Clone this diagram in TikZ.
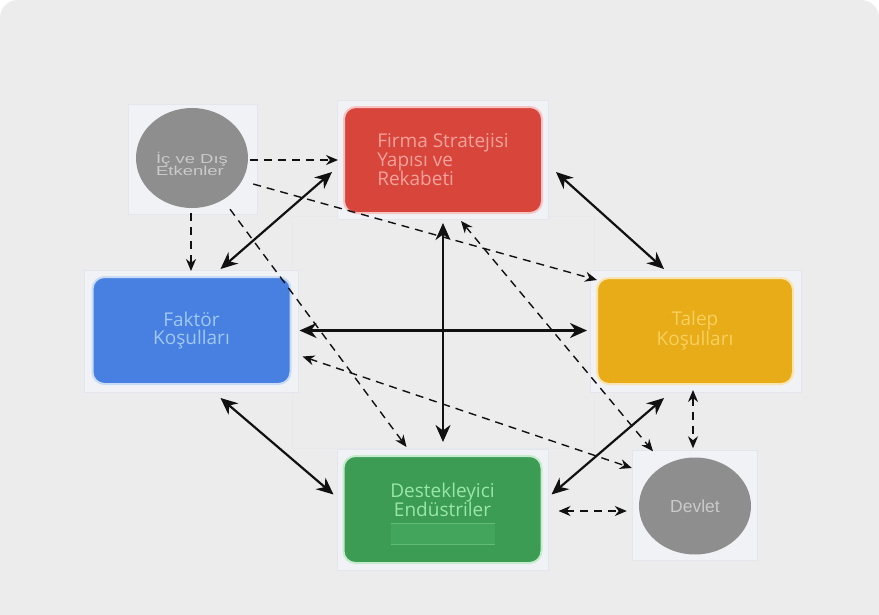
\documentclass[tikz,border=0pt]{standalone}
\usepackage{fontspec}
\usepackage{graphicx}
\setmainfont{Open Sans}
\newfontfamily\arialf{Liberation Sans}
\usetikzlibrary{arrows.meta,calc,shapes.geometric}
\definecolor{bgc}{HTML}{ECECEC}
\definecolor{framef}{HTML}{F1F2F6}
\definecolor{framed}{HTML}{E4E6EE}
\definecolor{redf}{HTML}{D8453B}
\definecolor{redt}{HTML}{F4A29B}
\definecolor{redh}{HTML}{F6C4C4}
\definecolor{bluef}{HTML}{4880E2}
\definecolor{bluet}{HTML}{A0C8F2}
\definecolor{blueh}{HTML}{C8DCF6}
\definecolor{yelf}{HTML}{E8AC18}
\definecolor{yelt}{HTML}{F7D05E}
\definecolor{yelh}{HTML}{F8E4B0}
\definecolor{grnf}{HTML}{3C9C54}
\definecolor{grnt}{HTML}{9AE6A8}
\definecolor{grnh}{HTML}{C4ECCC}
\definecolor{grnp}{HTML}{43A45C}
\definecolor{grnl}{HTML}{62BC78}
\definecolor{grayf}{HTML}{8E8E8E}
\definecolor{grayt}{HTML}{CACACA}
\definecolor{arr}{HTML}{111111}
\tikzset{
  frame/.style={fill=framef, draw=framed, line width=0.8},
  box/.style={rectangle, rounded corners=12, minimum width=198, minimum height=106, inner sep=0, line width=2, font=\fontsize{19}{19}\selectfont, align=center},
  circ/.style={ellipse, fill=grayf, inner sep=0, text=grayt},
  solidarr/.style={draw=arr, line width=2.2, {Stealth[length=17, width=15]}-{Stealth[length=17, width=15]}},
  dasharr/.style={draw=arr, line width=1.4, dash pattern=on 8 off 6, -{Stealth[length=12, width=10]}},
  dashboth/.style={dasharr, {Stealth[length=12, width=10]}-{Stealth[length=12, width=10]}}
}
\begin{document}
\begin{tikzpicture}[x=1pt,y=-1pt]
\useasboundingbox (0,0) rectangle (879,614);
\fill[white] (0,0) rectangle (879,614);
\fill[bgc, rounded corners=18] (0,0) rectangle (879,660);
% faint layout frames
\filldraw[fill=bgc, draw=framed!50!bgc, line width=0.6] (292,216) rectangle (594,448);
\filldraw[frame] (128,104) rectangle (257,214);
\filldraw[frame] (337,100) rectangle (548,219);
\filldraw[frame] (84,270) rectangle (298,392);
\filldraw[frame] (590,270) rectangle (801,392);
\filldraw[frame] (337,449) rectangle (548,570);
\filldraw[frame] (632,450) rectangle (757,560);
% nodes
\node[box, fill=redf, draw=redh, text=redt, align=left] (firma) at (443,160) {Firma Stratejisi\\Yapısı ve\\Rekabeti};
\node[box, fill=bluef, draw=blueh, text=bluet, minimum height=107, font=\fontsize{19}{18}\selectfont] (faktor) at (191.5,330.5) {Faktör\\Koşulları};
\node[box, fill=yelf, draw=yelh, text=yelt, minimum width=196, font=\fontsize{19}{18}\selectfont] (talep) at (695,331) {Talep\\Koşulları};
\node[box, fill=grnf, draw=grnh, minimum height=107] (destek) at (442.5,509.5) {};
\fill[grnp] ($(destek.center)+(-52,14)$) rectangle ($(destek.center)+(52,35)$);
\draw[grnl, line width=0.5] ($(destek.center)+(-52,14)$) -- ($(destek.center)+(52,14)$);
\draw[grnl, line width=0.5] ($(destek.center)+(-52,35)$) -- ($(destek.center)+(52,35)$);
\node[text=grnt, font=\fontsize{19}{19}\selectfont, align=center, inner sep=0] (destektext) at ($(destek.center)+(0,-10)$) {Destekleyici\\Endüstriler};
\node[circ, minimum width=112, minimum height=100] (ic) at (192,158) {};
\node[text=grayt, inner sep=0, font=\arialf\fontsize{13}{13}\selectfont] (ictext) at ($(ic.center)+(0,8)$) {\scalebox{1.42}[1]{\begin{tabular}{@{}l@{}}İç ve Dış\\[-1.5pt]Etkenler\end{tabular}}};
\node[circ, minimum width=112, minimum height=97, font=\arialf\fontsize{17.5}{18}\selectfont] (devlet) at (695,506) {Devlet};
% solid connectors
\draw[solidarr] ($(firma.west)+(-11,12)$) -- ($(faktor.north west)+(129,-7)$);
\draw[solidarr] ($(firma.east)+(13,12)$) -- ($(talep.north east)+(-130,-8)$);
\draw[solidarr] ($(faktor.east)+(8,0)$) -- ($(talep.west)+(-9,-0.5)$);
\draw[solidarr] ($(firma.south)+(0,9)$) -- ($(destek.north)+(0.5,-13)$);
\draw[solidarr] ($(faktor.south west)+(129,13)$) -- ($(destek.west)+(-9,-15)$);
\draw[solidarr] ($(talep.south west)+(68,13)$) -- ($(destek.east)+(9,-15)$);
% dashed connectors
\draw[dasharr] ($(ic.east)+(2,2)$) -- ($(firma.west)+(-5,0)$);
\draw[dasharr] ($(ic.south)+(-1,5)$) -- ($(faktor.north)+(-0.5,-5)$);
\draw[dasharr] ($(ic.east)+(5,26)$) -- ($(talep.north west)+(1,3)$);
\draw[dasharr] ($(ic.south)+(38,1)$) -- ($(destek.north west)+(64,-8)$);
\draw[dashboth] ($(firma.south)+(18,7)$) -- ($(devlet.north)+(-42,-6)$);
\draw[dashboth] ($(faktor.east)+(11,26)$) -- ($(devlet.west)+(-7,-38)$);
\draw[dashboth] ($(talep.south)+(-2,5)$) -- ($(devlet.north)+(-2,-9)$);
\draw[dashboth] ($(destek.east)+(16,1.5)$) -- ($(devlet.west)+(-12,5)$);
\end{tikzpicture}
\end{document}
